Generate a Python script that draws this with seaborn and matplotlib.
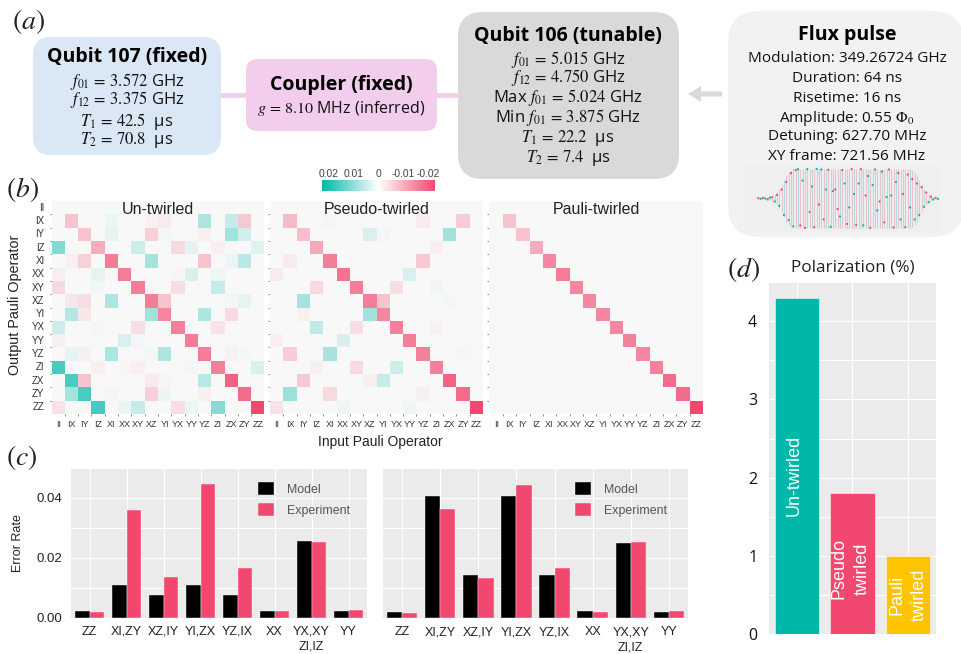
import numpy as np
import pandas as pd
import matplotlib
matplotlib.use("Agg")
import matplotlib.pyplot as plt
from matplotlib.colors import LinearSegmentedColormap, Normalize
from matplotlib.cm import ScalarMappable
from matplotlib.patches import FancyBboxPatch
from matplotlib.ticker import FixedLocator
import seaborn as sns

# ---------- data ----------
OPS = ["II","IX","IY","IZ","XI","XX","XY","XZ","YI","YX","YY","YZ","ZI","ZX","ZY","ZZ"]
# Pauli transfer matrix deviations, in units of 0.001
UNTWIRLED = [
 [0,0,0,0,0,0,0,0,0,0,0,0,0,0,0,0],
 [0,-6,0,0,1,0,0,-1,-1.5,0,0,6,0,4,-5.5,0],
 [0,0,-6,0,1.5,0,0,-4.5,.5,0,0,-1,0,7,3,0],
 [9.5,0,0,-8.5,0,0,3.5,0,0,-3.5,1.5,0,-1,0,0,2],
 [0,-1,-4.5,0,-14,0,0,6.5,0,0,0,-6,0,1,5,0],
 [-1.2,0,0,1.5,0,-14,0,0,0,-.3,2.5,0,.8,0,0,0],
 [-3.5,0,0,.5,0,0,-14,0,0,-3,0,0,4,0,0,0],
 [0,-2,-3,0,6,0,0,-14,-6,0,0,-.2,0,.5,1.5,0],
 [0,5.5,-2,0,0,0,0,7,-13,0,0,6,0,-3.5,0,0],
 [3.5,0,0,.5,0,0,-3,0,0,-13.5,0,0,-2.5,0,0,0],
 [-1,0,0,.2,0,2.5,.5,0,0,0,-14,0,0,0,0,0],
 [0,1.5,-1,0,6,0,0,.5,6,0,0,-14,0,-1,.3,0],
 [14,0,0,-1,0,-.3,-1,0,0,.2,.5,0,-13.5,0,0,2.5],
 [0,14,-6,0,0,0,0,-1.5,-.5,0,0,5,0,-17,0,0],
 [0,6.5,14,0,-.5,0,0,-4.5,1,0,0,-1,0,0,-16,0],
 [-2.5,.2,.2,14.5,0,1,4,0,0,-3,1,0,9,0,0,-20],
]
PSEUDO = [
 [0,0,0,0,0,0,0,0,0,0,0,0,0,0,0,0],
 [0,-7,0,0,.5,0,0,0,0,0,0,-1.5,0,0,-5,0],
 [0,0,-6.5,0,0,0,0,2.5,.5,0,0,0,0,7,0,0],
 [.2,0,0,-9,0,0,0,0,0,0,0,0,-1,0,0,0],
 [0,-1.5,0,0,-14,0,0,0,0,0,0,-5.5,0,0,0,0],
 [-1.5,0,0,0,0,-15,0,0,0,0,2.5,0,0,0,0,-.1],
 [0,0,0,-3.5,0,0,-14,0,0,-3,0,0,.7,0,0,0],
 [0,0,6.5,0,0,0,0,-14,-6,0,0,0,0,.3,0,0],
 [0,0,-1,0,0,0,0,7,-13,0,0,0,0,0,0,0],
 [0,0,0,4.5,0,0,-3,0,0,-13.5,0,0,-.8,0,0,0],
 [-1,0,0,0,0,2.5,0,0,0,0,-14,0,0,0,0,-.1],
 [0,-5,0,0,6.5,0,0,0,0,0,0,-13.5,0,0,.3,0],
 [0,0,0,-1,0,0,-3.5,0,0,3.5,0,0,-13.5,0,0,0],
 [0,0,-5.5,0,0,0,0,-1,4,0,0,0,0,-17,0,0],
 [0,7.5,0,0,-3.5,0,0,0,0,0,0,-1,0,0,-16,0],
 [-2.5,0,0,0,0,.8,0,0,0,0,.8,0,0,0,0,-20],
]
PAULI_DIAG = [0,-6,-6,-8.5,-13,-14,-13,-13,-13,-13,-13.5,-13,-13.5,-16,-16,-20]

GROUPS = ["ZZ","XI,ZY","XZ,IY","YI,ZX","YZ,IX","XX","YX,XY\nZI,IZ","YY"]
MODEL_LEFT = [.0022,.0108,.0075,.0108,.0075,.0022,.0257,.0021]
EXP_LEFT   = [.0018,.0361,.0134,.0445,.0167,.0021,.0252,.0025]
MODEL_RIGHT= [.0020,.0407,.0144,.0407,.0144,.0022,.0249,.0020]
EXP_RIGHT  = [.0018,.0362,.0134,.0444,.0168,.0020,.0252,.0024]

POL_NAMES = ["Un-twirled","Pseudo twirled","Pauli twirled"]
POL_VALUES = [4.30,1.81,1.00]

PULSE_ENV = [.02,.02,.03,.03,.04,.06,.1,.15,.22,.32,.45,.62,.78,.88,.94,.98,
 1,1,1,1,1,1,1,1,1,1,1,1,1,1,1,1,1,1,1,1,1,1,1,1,1,1,1,1,1,1,1,1,1,1,1,1,1,1,1,1,1,1,1,1,1,1,1,1,1,
 .98,.94,.88,.78,.62,.45,.32,.22,.15,.08,.04,.03,.02]
PULSE_PTS = [.01,-.01,.02,.0,-.03,.03,.05,-.1,.12,-.25,.3,-.55,.55,-.72,.85,-.93,
 .95,.98,-.9,.6,-.98,.98,-.45,.4,-.96,.99,-.2,.97,-.7,.3,.96,-.95,.25,.3,-.35,-.6,.95,.5,-.85,-.3,.98,.15,-.88,.5,.98,
 -.9,.1,.75,-.98,.45,.97,-.4,-.1,.9,-.8,.05,.97,.1,-.97,.55,.85,-.7,.15,-.96,.8,
 -.3,.65,-.7,.5,-.55,.38,-.28,.2,-.12,.06,-.03,.02,-.01]

QUBIT107 = ["$f_{01}\\,=\\,3.572$ GHz","$f_{12}\\,=\\,3.375$ GHz","$T_1\\,=\\,42.5$  μs","$T_2\\,=\\,70.8$  μs"]
QUBIT106 = ["$f_{01}\\,=\\,5.015$ GHz","$f_{12}\\,=\\,4.750$ GHz","Max $f_{01}\\,=\\,5.024$ GHz","Min $f_{01}\\,=\\,3.875$ GHz","$T_1\\,=\\,22.2$  μs","$T_2\\,=\\,7.4$  μs"]
FLUX = ["Modulation: 349.26724 GHz","Duration: 64 ns","Risetime: 16 ns","Amplitude: 0.55 $\\Phi_0$","Detuning: 627.70 MHz","XY frame: 721.56 MHz"]

# ---------- style ----------
W, H = 962, 654
sns.set_theme(style="white")
plt.rcParams["font.family"] = ["Liberation Sans", "DejaVu Sans"]
plt.rcParams["mathtext.fontset"] = "stix"
TEAL, PINK, YELLOW = "#00b8a9", "#f2486f", "#ffc400"
UI = ["Open Sans", "DejaVu Sans"]

fig = plt.figure(figsize=(W/100, H/100), dpi=100, facecolor="white")
def axpx(x0, y0, x1, y1):
    return fig.add_axes([x0/W, 1-y1/H, (x1-x0)/W, (y1-y0)/H])

ov = fig.add_axes([0, 0, 1, 1])
ov.set_xlim(0, W); ov.set_ylim(H, 0); ov.axis("off")

def box(x0, y0, x1, y1, r, color):
    ov.add_patch(FancyBboxPatch((x0, y0), x1-x0, y1-y0, boxstyle=f"round,pad=0,rounding_size={r}",
                                fc=color, ec="none", zorder=2))

ov.plot([215, 465], [95, 95], color="#f2cdec", lw=3.4, zorder=1, solid_capstyle="butt")
box(33, 37, 221, 155, 18, "#dae8f5")
box(246, 59, 437, 131, 12, "#f2cdec")
box(458, 12, 679, 179, 25, "#d9d9d9")
box(728, 11, 964, 237, 32, "#f2f2f2")
ov.arrow(722, 94, -34, 0, width=5, head_width=16, head_length=13, length_includes_head=True,
         color="#d9d9d9", lw=0, zorder=2)

def block(cx, ty, title, lines, ys, fs, tfs=14):
    ov.text(cx, ty, title, ha="center", va="center", fontsize=tfs, fontweight="bold", family=UI, color="black", zorder=3)
    for s, y in zip(lines, ys):
        ov.text(cx, y, s, ha="center", va="center", fontsize=fs, family=UI, color="#111111", zorder=3)

block(127, 57, "Qubit 107 (fixed)", QUBIT107, [81, 100, 121, 140], fs=12)
block(341, 85, "Coupler (fixed)", ["$g\\,=\\,8.10$ MHz (inferred)"], [109], fs=11.5)
block(568, 36, "Qubit 106 (tunable)", QUBIT106, [59, 78, 98, 118, 138, 158], fs=12)
block(847, 35, "Flux pulse", FLUX, [58, 78, 98, 118, 137, 157], fs=11.1)

for lab, x, y in [("(a)", 12, 21), ("(b)", 6, 189), ("(c)", 6, 458), ("(d)", 727, 270)]:
    ov.text(x, y, f"$({lab[1]})$", fontsize=20, ha="left", va="center", color="#222222", zorder=3)

ov.text(380, 442, "Input Pauli Operator", ha="center", va="center", fontsize=10, color="#222222")
ov.text(15, 305, "Output Pauli Operator", ha="center", va="center", rotation=90, fontsize=10.4, color="#222222")

# ---------- flux thumbnail ----------
tax = axpx(745, 165, 940, 232)
tax.set_facecolor("#efefef")
idx = np.arange(len(PULSE_ENV))
env = np.array(PULSE_ENV)
pts = np.array(PULSE_PTS)
stripe = np.where(idx % 2 == 0, PINK, TEAL)
tax.vlines(idx, -env, env, colors=stripe, lw=0.8, alpha=0.28)
tax.scatter(idx, pts, c=stripe, s=2.5, lw=0)
tax.set_xlim(-5.7, 77.9); tax.set_ylim(-1.12, 1.12)
tax.set_xticks([]); tax.set_yticks([])
for s in tax.spines.values():
    s.set_visible(False)

# ---------- heatmaps ----------
cmap = LinearSegmentedColormap.from_list("tw", [PINK, "#f8f8f8", TEAL], N=1025)
bar_cmap = LinearSegmentedColormap.from_list("twb", [PINK, "#ffffff", TEAL], N=1025)
pauli = np.zeros((16, 16)); np.fill_diagonal(pauli, PAULI_DIAG)
boxes = [(51.5, 264.5), (270, 483), (489.5, 703)]
titles = ["Un-twirled", "Pseudo-twirled", "Pauli-twirled"]
for i, (m, (x0, x1), t) in enumerate(zip([np.array(UNTWIRLED), np.array(PSEUDO), pauli], boxes, titles)):
    ax = axpx(x0, 201, x1, 414)
    df = pd.DataFrame(m*1e-3, index=OPS, columns=OPS)
    sns.heatmap(df, ax=ax, cmap=cmap, vmin=-.02, vmax=.02, cbar=False,
                xticklabels=OPS, yticklabels=OPS if i == 0 else False)
    ax.set_xlabel(""); ax.set_ylabel("")
    ax.tick_params(axis="both", which="major", length=0)
    ax.tick_params(axis="x", labelsize=6.5, rotation=0, pad=4, labelcolor="#333333")
    ax.tick_params(axis="y", labelsize=7, rotation=0, pad=5, labelcolor="#333333")
    ax.xaxis.set_minor_locator(FixedLocator(np.arange(1, 16)))
    ax.yaxis.set_minor_locator(FixedLocator(np.arange(1, 16)))
    ax.tick_params(axis="both", which="minor", length=1.2, width=0.5, color="#555555", bottom=True, left=True)
    ax.text(8, 0.62, t, ha="center", va="center", fontsize=11.5, color="#222222")

cax = axpx(322, 180, 435, 191)
cb = fig.colorbar(ScalarMappable(Normalize(-.0226, .0226), bar_cmap), cax=cax, orientation="horizontal")
cb.set_ticks([.02, .01, 0, -.01, -.02])
cb.set_ticklabels(["0.02", "0.01", "0", "-0.01", "-0.02"])
cax.invert_xaxis()
cax.xaxis.set_ticks_position("top")
cax.tick_params(length=0, labelsize=7.4, pad=0.5, labelcolor="#444444")
cb.outline.set_visible(False)

# ---------- panel c ----------
def ggplot_axes(ax):
    ax.set_facecolor("#ebebeb")
    ax.grid(True, which="both", color="white", lw=0.8)
    ax.set_axisbelow(True)
    for s in ax.spines.values():
        s.set_visible(False)

def err_panel(box_px, model, exp, leg_xy, first):
    ax = axpx(*box_px)
    long = pd.DataFrame({"group": GROUPS*2, "kind": ["Model"]*8 + ["Experiment"]*8, "rate": model+exp})
    sns.barplot(long, x="group", y="rate", hue="kind", ax=ax, palette=["black", PINK],
                width=0.8, gap=0, saturation=1, errorbar=None, edgecolor="#f7f7f7", linewidth=0.3)
    ggplot_axes(ax)
    ax.set_xlim(-.5, 7.5); ax.set_ylim(0, .05)
    ax.set_yticks([0, .01, .02, .03, .04, .05])
    ax.set_yticklabels(["0.00", "", "0.02", "", "0.04", ""] if first else [""]*6)
    ax.tick_params(axis="y", labelsize=9.5, length=1.5, width=0.5, color="#777777", pad=5, labelcolor="#222222")
    ax.tick_params(axis="x", labelsize=9, length=0, pad=6, labelcolor="#222222")
    for lb in ax.get_xticklabels():
        lb.set_linespacing(1.3)
    ax.set_xlabel("")
    ax.set_ylabel("Error Rate" if first else "", fontsize=9, color="#222222", labelpad=8.5)
    leg = ax.legend(loc="upper left", bbox_to_anchor=leg_xy, frameon=False, fontsize=8.9,
                    handlelength=1.25, handleheight=1.25, handletextpad=1.1, labelspacing=0.6,
                    borderpad=0, borderaxespad=0)
    for t in leg.get_texts():
        t.set_color("#555555")
    return ax

err_panel((71, 468, 367, 617.5), MODEL_LEFT, EXP_LEFT, (0.632, 0.905), True)
err_panel((383, 468, 688, 618), MODEL_RIGHT, EXP_RIGHT, (0.63, 0.905), False)

# ---------- panel d ----------
dax = axpx(769, 283, 936, 634)
pol = pd.DataFrame({"name": POL_NAMES, "value": POL_VALUES})
sns.barplot(pol, x="name", y="value", hue="name", ax=dax, palette=[TEAL, PINK, YELLOW], legend=False,
            width=0.8, saturation=1, errorbar=None, edgecolor="#f7f7f7", linewidth=0.4)
ggplot_axes(dax)
dax.set_xlim(-.5, 2.5); dax.set_ylim(0, 4.49)
dax.set_xlabel(""); dax.set_ylabel("")
dax.set_xticks([0, 1, 2]); dax.set_xticklabels(["", "", ""])
dax.set_yticks([0, .5, 1, 1.5, 2, 2.5, 3, 3.5, 4])
dax.set_yticklabels(["0", "", "1", "", "2", "", "3", "", "4"])
dax.tick_params(axis="y", labelsize=11.5, length=1.5, width=0.5, color="#777777", pad=7, labelcolor="#111111")
dax.tick_params(axis="x", length=2.5, width=0.5, color="#777777")
for lb in dax.get_yticklabels():
    lb.set_fontfamily(UI)
ov.text(853, 268, "Polarization (%)", ha="center", va="center", fontsize=12.3, family=UI, color="#222222")
dax.text(-0.05, 2.03, "Un-twirled", rotation=90, ha="center", va="center", color="white", fontsize=13)
dax.text(0.97, 0.84, "Pseudo\ntwirled", rotation=90, ha="center", va="center", color="white",
         fontsize=13, linespacing=1.45, multialignment="center")
dax.text(2, 0.5, "Pauli\ntwirled", rotation=90, ha="center", va="center", color="white",
         fontsize=13, linespacing=1.45, multialignment="center")

fig.savefig("out.png", dpi=100, facecolor="white")
